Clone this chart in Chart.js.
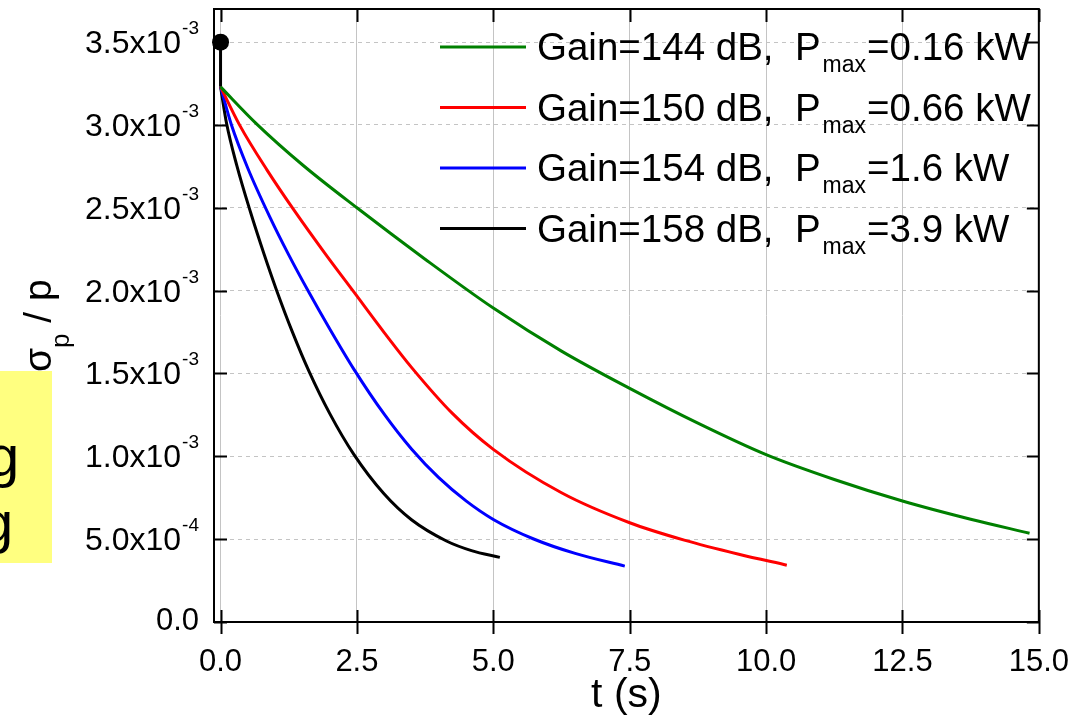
<!DOCTYPE html>
<html>
<head>
<meta charset="utf-8">
<script src="https://cdn.jsdelivr.net/npm/chart.js@4.4.1/dist/chart.umd.min.js"></script>
<style>
  html, body { margin: 0; padding: 0; background: #fff; }
  #wrap { position: relative; width: 1091px; height: 719px; overflow: hidden; }
  #note {
    position: absolute; left: 0; top: 371px; width: 52px; height: 192px;
    background: #ffff80; overflow: hidden;
    font-family: "Liberation Sans", Arial, sans-serif; font-size: 58px; color: #000;
  }
  #note span { position: absolute; line-height: 1; }
  #chart { position: absolute; left: 0; top: 0; }
</style>
</head>
<body>
<div id="wrap">
  <div id="note"><span style="left:-13px; top:56px;">g</span><span style="left:-19px; top:122px;">g</span></div>
  <canvas id="chart" width="1091" height="719"></canvas>
</div>
<script>
// damping of sigma_p/p for four gain settings
const gains = [144, 150, 154, 158];
const pmax = ['0.16', '0.66', '1.6', '3.9'];
const colors = ['#008000', '#ff0000', '#0000ff', '#000000'];

const tGreen = [0, 0.65, 1.5, 2.5, 3.75, 5, 6.25, 7.5, 8.75, 10, 11.25, 12.5, 13.75, 14.83];
const sGreen = [3.23e-3, 3.01e-3, 2.76e-3, 2.50e-3, 2.19e-3, 1.895e-3, 1.635e-3, 1.41e-3, 1.20e-3, 1.01e-3, 0.86e-3, 0.73e-3, 0.62e-3, 0.536e-3];

const tRed = [0, 0.35, 0.85, 1.35, 1.9, 2.45, 3.0, 3.5, 4.25, 5.0, 6.25, 7.5, 8.5, 9.5, 10.38];
const sRed = [3.23e-3, 2.999e-3, 2.729e-3, 2.484e-3, 2.231e-3, 1.989e-3, 1.747e-3, 1.537e-3, 1.259e-3, 1.042e-3, 0.78e-3, 0.599e-3, 0.494e-3, 0.409e-3, 0.343e-3];

const tBlue = [0, 0.2, 0.5, 0.9, 1.25, 1.62, 2.0, 2.44, 3.0, 3.5, 4.0, 4.5, 5.0, 5.74, 6.5, 7.41];
const sBlue = [3.23e-3, 3.0e-3, 2.739e-3, 2.447e-3, 2.216e-3, 1.99e-3, 1.77e-3, 1.528e-3, 1.254e-3, 1.044e-3, 0.871e-3, 0.731e-3, 0.619e-3, 0.501e-3, 0.414e-3, 0.337e-3];

const tBlack = [0, 0.11, 0.3, 0.55, 0.8, 1.02, 1.32, 1.62, 2.0, 2.44, 3.0, 3.5, 4.14, 4.6, 5.12];
const sBlack = [3.23e-3, 3.01e-3, 2.753e-3, 2.473e-3, 2.218e-3, 2.009e-3, 1.748e-3, 1.514e-3, 1.259e-3, 1.013e-3, 0.772e-3, 0.617e-3, 0.489e-3, 0.431e-3, 0.39e-3];

// starting value and the drop at t = 0
const tStart = [0, 0];
const sStart = [3.5e-3, 3.23e-3];

const xTicks = [0, 2.5, 5, 7.5, 10, 12.5, 15];
const yTicks = [0, 0.5e-3, 1.0e-3, 1.5e-3, 2.0e-3, 2.5e-3, 3.0e-3, 3.5e-3];

const FONT = '"Liberation Sans", Arial, sans-serif';

function pts(t, s) {
  return t.map((v, i) => ({ x: v, y: s[i] }));
}

const series = [[tGreen, sGreen], [tRed, sRed], [tBlue, sBlue], [tBlack, sBlack]];
const datasets = series.map((d, i) => ({
  label: 'Gain=' + gains[i] + ' dB',
  data: pts(d[0], d[1]),
  borderColor: colors[i],
  borderWidth: 3,
  pointRadius: 0,
  cubicInterpolationMode: 'monotone',
  fill: false
}));
datasets.push({
  label: 'start',
  data: pts(tStart, sStart),
  borderColor: '#000',
  backgroundColor: '#000',
  borderWidth: 3,
  pointRadius: [8.5, 0],
  pointBackgroundColor: '#000',
  pointBorderWidth: 0,
  clip: false
});

const frame = {
  id: 'frame',
  afterDatasetsDraw(chart) {
    const { ctx, chartArea: a, scales } = chart;
    ctx.save();
    ctx.strokeStyle = '#000';
    ctx.lineWidth = 2;
    ctx.strokeRect(a.left, a.top, a.right - a.left, a.bottom - a.top);
    ctx.beginPath();
    xTicks.forEach(v => {
      const x = Math.round(scales.x.getPixelForValue(v)) + 0.5;
      ctx.moveTo(x, a.bottom + 12); ctx.lineTo(x, a.bottom - 12);
      ctx.moveTo(x, a.top); ctx.lineTo(x, a.top + 13);
    });
    yTicks.forEach(v => {
      const y = Math.round(scales.y.getPixelForValue(v)) + 0.5;
      ctx.moveTo(a.left, y); ctx.lineTo(a.left + 13, y);
      ctx.moveTo(a.right, y); ctx.lineTo(a.right - 12, y);
    });
    ctx.stroke();
    ctx.restore();
  },
  afterDraw(chart) {
    const { ctx, chartArea: a, scales } = chart;
    ctx.save();
    ctx.fillStyle = '#000';
    ctx.textBaseline = 'alphabetic';

    // y tick labels as m.mx10^e
    yTicks.forEach(v => {
      const y = scales.y.getPixelForValue(v);
      if (v === 0) {
        ctx.font = '31px ' + FONT;
        ctx.textAlign = 'right';
        ctx.fillText('0.0', 199, y + 8);
        return;
      }
      const e = Math.floor(Math.log10(v) + 1e-9);
      const m = (v / Math.pow(10, e)).toFixed(1);
      ctx.font = '19px ' + FONT;
      const sw = ctx.measureText(String(e)).width;
      const right = 199 - sw - 1;
      ctx.textAlign = 'left';
      ctx.fillText(String(e), right + 1, y - 8);
      ctx.font = '32px ' + FONT;
      ctx.textAlign = 'right';
      ctx.fillText(m + 'x10', right, y + 11);
    });

    // x title
    ctx.font = '41px ' + FONT;
    ctx.textAlign = 'center';
    ctx.fillText('t (s)', (a.left + a.right) / 2, 707);

    // y title: sigma_p / p
    ctx.save();
    ctx.translate(51, 372);
    ctx.rotate(-Math.PI / 2);
    ctx.textAlign = 'left';
    let x = 0;
    ctx.font = '39px ' + FONT;
    ctx.fillText('σ', x, 0);
    x += ctx.measureText('σ').width;
    ctx.font = '26px ' + FONT;
    ctx.fillText('p', x, 18);
    x += ctx.measureText('p').width;
    ctx.font = '39px ' + FONT;
    ctx.fillText(' / p', x, 0);
    ctx.restore();

    // legend with subscripted P_max
    const rows = [47, 107.5, 168, 228.5];
    rows.forEach((ry, i) => {
      ctx.strokeStyle = colors[i];
      ctx.lineWidth = 3;
      ctx.beginPath();
      ctx.moveTo(440, ry); ctx.lineTo(526, ry);
      ctx.stroke();
      ctx.textAlign = 'left';
      let tx = 537;
      const head = 'Gain=' + gains[i] + ' dB,  P';
      ctx.font = '38.5px ' + FONT;
      ctx.fillText(head, tx, ry + 13);
      tx += ctx.measureText(head).width + 2;
      ctx.font = '23px ' + FONT;
      ctx.fillText('max', tx, ry + 25);
      tx += ctx.measureText('max').width + 1;
      ctx.font = '38.5px ' + FONT;
      ctx.fillText('=' + pmax[i] + ' kW', tx, ry + 13);
    });
    ctx.restore();
  }
};

new Chart(document.getElementById('chart'), {
  type: 'line',
  data: { datasets },
  options: {
    responsive: false,
    animation: false,
    layout: { padding: { left: 0, top: 9, right: 45, bottom: 0 } },
    plugins: { legend: { display: false }, tooltip: { enabled: false } },
    scales: {
      x: {
        type: 'linear',
        min: -0.12,
        max: 15,
        afterBuildTicks: s => { s.ticks = xTicks.map(v => ({ value: v })); },
        afterFit: s => { s.height = 97; },
        grid: { color: '#c4c4c4', lineWidth: 1, drawTicks: false },
        border: { display: false },
        ticks: {
          autoSkip: false,
          maxRotation: 0,
          padding: 22,
          color: '#000',
          font: { family: FONT, size: 31 },
          callback: v => Number(v).toFixed(1)
        }
      },
      y: {
        type: 'linear',
        min: 0,
        max: 3.7e-3,
        afterBuildTicks: s => { s.ticks = yTicks.map(v => ({ value: v })); },
        afterFit: s => { s.width = 214; },
        grid: { color: '#c4c4c4', lineWidth: 1, drawTicks: false },
        border: { display: false, dash: [4, 4] },
        ticks: { display: false }
      }
    }
  },
  plugins: [frame]
});
</script>
</body>
</html>
